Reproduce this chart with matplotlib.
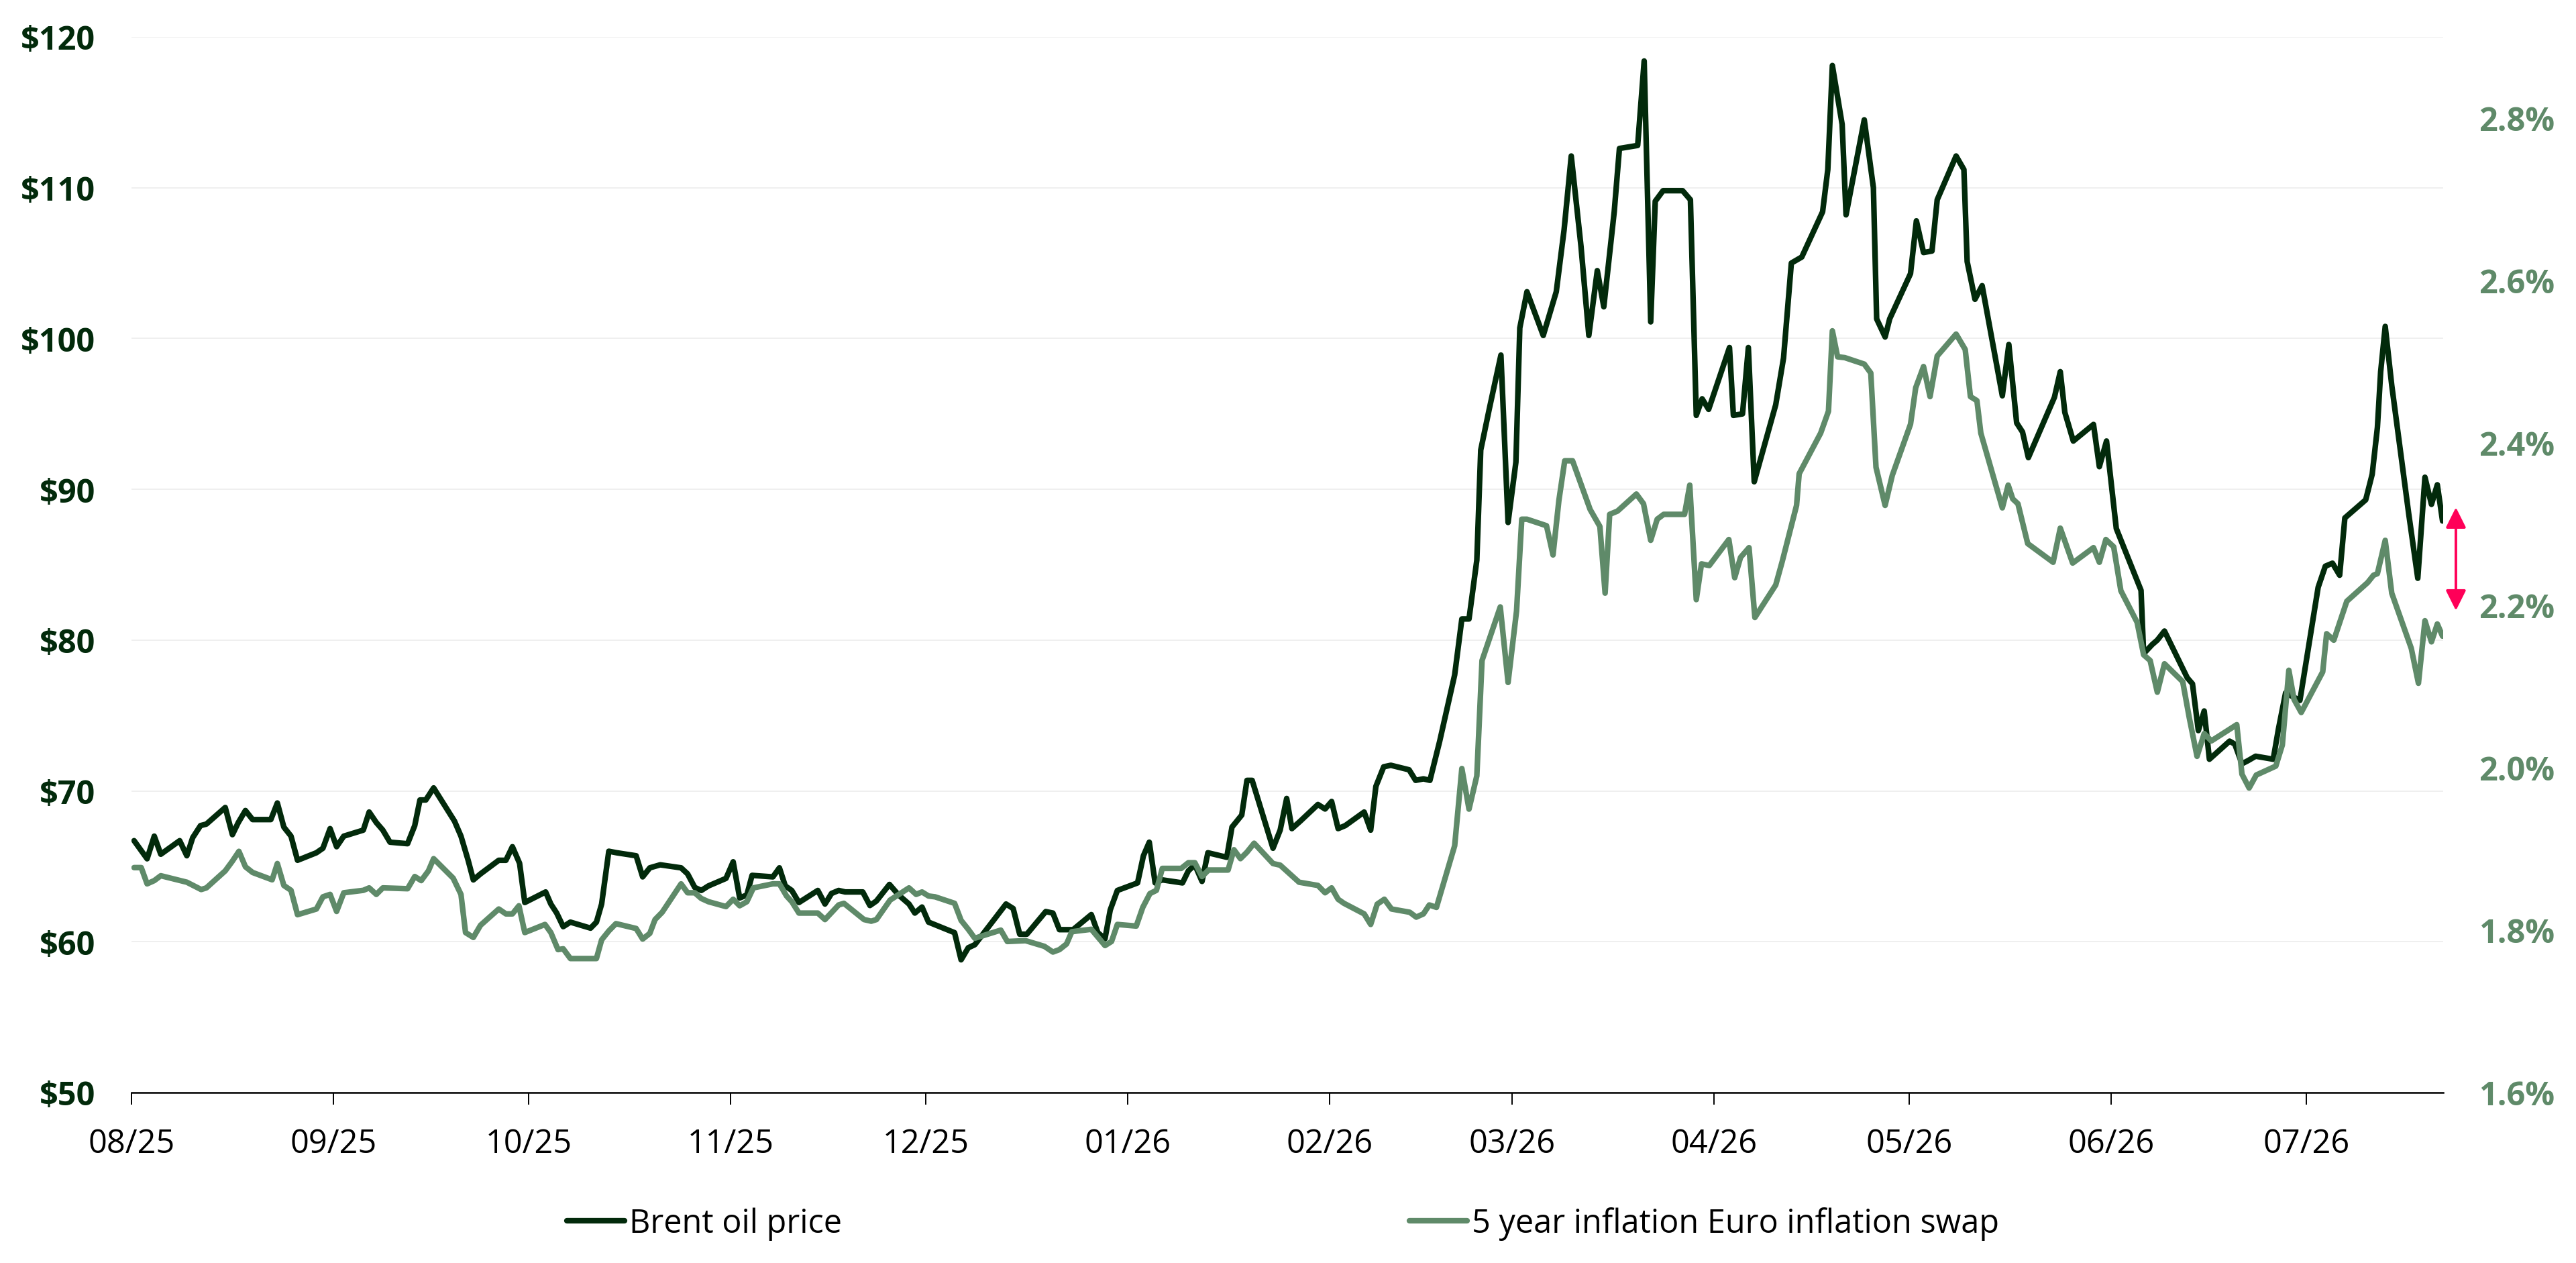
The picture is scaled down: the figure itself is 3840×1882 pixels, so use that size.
import pandas as pd
import matplotlib
matplotlib.use('Agg')
import matplotlib.pyplot as plt
import matplotlib.dates as mdates

plt.rcParams['font.family'] = ['Open Sans', 'DejaVu Sans']

DARK = '#022a0b'
LIGHT = '#5f8a69'
PINK = '#ff0058'

start = pd.Timestamp('2025-08-01')

# days since 1 Aug 2025, Brent in USD
oil_day = [0.4, 2.4, 3.5, 4.5, 7.4, 8.5, 9.4, 10.6, 11.5, 14.4, 15.5, 16.4, 17.5, 18.6, 21.4, 22.4,
           23.4, 24.5, 25.5, 28.4, 29.4, 30.5, 31.5, 32.6, 35.6, 36.5, 37.6, 38.6, 39.7, 42.4, 43.5,
           44.3, 45.2, 46.4, 49.6, 50.6, 51.7, 52.5, 53.6, 56.4, 57.5, 58.5, 59.6, 60.4, 63.6, 64.4,
           65.3, 66.3, 67.4, 70.5, 71.4, 72.2, 73.3, 74.5, 77.5, 78.5, 79.6, 81.2, 84.4, 85.4, 86.5,
           87.5, 88.6, 91.3, 92.4, 93.4, 94.5, 95.3, 98.5, 99.5, 100.4, 101.4, 102.5, 105.4, 106.5,
           107.5, 108.6, 109.6, 112.3, 113.4, 114.4, 116.4, 117.8, 119.4, 120.3, 121.4, 122.4, 126.4,
           127.4, 128.5, 129.5, 134.3, 135.4, 136.4, 137.5, 140.4, 141.5, 142.5, 144.6, 147.4, 148.4,
           149.5, 150.3, 151.4, 154.5, 155.4, 156.3, 157.2, 158.3, 161.4, 162.3, 163.3, 164.4, 165.3,
           168.2, 169.0, 170.5, 171.3, 172.1, 175.3, 176.4, 177.4, 178.2, 179.5, 182.2, 183.3, 184.3,
           185.3, 186.4, 189.3, 190.3, 191.1, 192.3, 193.4, 196.2, 197.2, 198.4, 199.4, 200.9, 203.2,
           204.3, 205.4, 206.6, 207.2, 208.5, 210.3, 211.4, 212.6, 213.2, 214.3, 216.8, 218.8, 220.0,
           221.1, 222.6, 223.8, 225.1, 226.1, 227.7, 228.5, 231.3, 232.3, 233.3, 234.0, 235.2, 238.2,
           239.4, 240.3, 241.2, 242.2, 245.4, 246.0, 247.4, 248.3, 249.2, 252.5, 253.7, 254.9, 256.5,
           259.7, 260.5, 261.2, 262.7, 263.3, 266.1, 267.5, 268.0, 269.3, 270.0, 273.2, 274.1, 275.2,
           276.5, 277.3, 280.2, 281.4, 281.9, 283.1, 284.2, 287.3, 288.3, 289.5, 290.4, 291.3, 295.3,
           296.2, 296.9, 298.2, 301.3, 302.2, 303.3, 304.8, 308.6, 309.0, 310.3, 311.1, 312.2, 315.7,
           316.5, 317.4, 318.3, 319.1, 322.2, 323.0, 324.1, 325.0, 326.2, 328.9, 329.7, 330.8, 333.0,
           335.8, 336.9, 338.0, 339.1, 339.9, 343.1, 344.1, 344.9, 345.4, 346.1, 347.1, 349.7, 351.1,
           352.2, 353.2, 354.1, 354.9]
oil_usd = [66.7, 65.5, 67.0, 65.8, 66.7, 65.7, 66.9, 67.7, 67.8, 68.9, 67.1, 67.9, 68.7, 68.1, 68.1, 69.2,
           67.6, 67.0, 65.4, 65.9, 66.2, 67.5, 66.3, 67.0, 67.4, 68.6, 67.9, 67.4, 66.6, 66.5, 67.7,
           69.4, 69.4, 70.2, 68.0, 67.0, 65.4, 64.1, 64.5, 65.4, 65.4, 66.3, 65.2, 62.6, 63.3, 62.5,
           61.9, 61.0, 61.3, 60.9, 61.3, 62.5, 66.0, 65.9, 65.7, 64.3, 64.9, 65.1, 64.9, 64.5, 63.6,
           63.4, 63.7, 64.2, 65.3, 62.9, 63.1, 64.4, 64.3, 64.9, 63.7, 63.4, 62.6, 63.4, 62.5,
           63.2, 63.4, 63.3, 63.3, 62.4, 62.7, 63.8, 63.1, 62.5, 61.9, 62.3, 61.3, 60.6,
           58.8, 59.6, 59.8, 62.5, 62.2, 60.5, 60.5, 62.0, 61.9, 60.8, 60.8, 61.8, 60.6,
           60.2, 62.1, 63.4, 63.9, 65.7, 66.6, 63.9, 64.1, 63.9, 64.7, 65.1, 64.0, 65.9,
           65.6, 67.6, 68.4, 70.7, 70.7, 66.2, 67.4, 69.5, 67.5, 68.0, 69.1, 68.8, 69.3,
           67.5, 67.7, 68.6, 67.4, 70.3, 71.6, 71.7, 71.4, 70.7, 70.8, 70.7, 73.3, 77.7,
           81.4, 81.4, 85.3, 92.6, 95.3, 98.9, 87.8, 91.8, 100.7, 103.1, 100.2, 103.1, 107.2,
           112.1, 106.1, 100.2, 104.5, 102.1, 108.4, 112.6, 112.8, 118.4, 101.1, 109.1, 109.8, 109.8,
           109.2, 94.9, 96.0, 95.3, 99.4, 94.9, 95.0, 99.4, 90.5, 95.6, 98.7, 105.0, 105.4,
           108.4, 111.2, 118.1, 114.2, 108.2, 114.5, 110.0, 101.3, 100.1, 101.3, 104.3, 107.8, 105.7,
           105.8, 109.2, 112.1, 111.2, 105.1, 102.6, 103.5, 96.2, 99.6, 94.4, 93.8, 92.1, 96.1,
           97.8, 95.1, 93.2, 94.3, 91.5, 93.2, 87.4, 83.3, 79.1, 79.7, 80.0, 80.6, 77.5,
           77.1, 74.0, 75.3, 72.1, 73.3, 73.1, 71.8, 72.0, 72.3, 72.1, 74.1, 76.5, 76.0,
           83.5, 84.9, 85.1, 84.3, 88.1, 89.3, 91.0, 94.1, 97.8, 100.8, 96.9, 88.4, 84.1,
           90.8, 89.0, 90.3, 87.9]

# days since 1 Aug 2025, 5y EUR inflation swap in %
swap_day = [0.4, 1.5, 2.4, 3.5, 4.5, 8.5, 10.7, 11.5, 14.4, 15.5, 16.5, 17.5, 18.6, 21.6, 22.4, 23.4,
            24.5, 25.5, 28.4, 29.4, 30.5, 31.5, 32.6, 35.6, 36.5, 37.6, 38.6, 42.4, 43.5, 44.5, 45.6,
            46.4, 49.4, 50.6, 51.3, 52.5, 53.6, 56.4, 57.5, 58.5, 59.5, 60.4, 63.5, 64.4, 65.5, 66.3,
            67.4, 71.4, 72.2, 73.3, 74.4, 77.5, 78.5, 79.6, 80.4, 81.5, 84.4, 85.4, 86.5, 87.5, 88.6,
            91.3, 92.4, 93.4, 94.5, 95.5, 98.5, 99.5, 100.6, 101.4, 102.5, 105.4, 106.5, 108.6, 109.4,
            112.5, 113.6, 114.4, 116.5, 119.4, 120.5, 121.4, 122.4, 123.4, 126.4, 127.4, 128.5, 129.5,
            133.5, 134.5, 137.3, 140.2, 141.5, 142.5, 143.6, 144.4, 145.3, 147.4, 149.5, 150.5, 151.4,
            154.3, 155.3, 156.4, 157.4, 158.3, 161.2, 162.3, 163.3, 164.4, 165.4, 168.4, 169.3, 170.3,
            171.3, 172.4, 175.3, 176.4, 179.3, 182.2, 183.3, 184.3, 185.3, 186.2, 189.3, 190.3, 191.3,
            192.4, 193.5, 196.3, 197.3, 198.4, 199.3, 200.4, 203.2, 204.3, 205.4, 206.6, 207.4, 210.2,
            211.4, 212.7, 213.5, 214.3, 217.3, 218.3, 219.2, 220.1, 221.3, 224.0, 225.5, 226.3, 227.0,
            228.2, 231.1, 232.2, 233.3, 234.3, 235.3, 238.5, 239.3, 240.3, 241.1, 242.3, 245.3, 246.2,
            247.1, 248.4, 249.3, 252.5, 253.5, 255.7, 256.1, 259.4, 260.6, 261.2, 262.0, 263.1, 266.1,
            267.1, 267.9, 269.3, 270.4, 273.2, 274.0, 275.2, 276.2, 277.3, 280.2, 281.6, 282.4, 283.4,
            284.0, 287.3, 288.2, 288.9, 289.7, 291.2, 295.1, 296.2, 298.1, 301.3, 302.2, 303.2, 304.4,
            305.5, 308.0, 309.0, 310.0, 311.1, 312.2, 315.0, 316.0, 317.2, 318.3, 319.4, 323.3, 324.1,
            325.2, 326.3, 329.3, 330.3, 331.3, 332.1, 333.2, 336.5, 337.1, 338.2, 340.2, 343.4, 344.3,
            344.9, 346.1, 347.1, 350.1, 351.2, 352.2, 353.2, 354.1, 354.9]
swap_pct = [1.877, 1.877, 1.857, 1.861, 1.867, 1.859, 1.850, 1.852, 1.873, 1.885, 1.897, 1.878, 1.871,
            1.862, 1.882, 1.855, 1.849, 1.819, 1.826, 1.841, 1.844, 1.823, 1.846, 1.849, 1.852, 1.844,
            1.852, 1.851, 1.866, 1.861, 1.873, 1.888, 1.864, 1.844, 1.797, 1.791, 1.806, 1.826, 1.820,
            1.820, 1.830, 1.797, 1.807, 1.797, 1.776, 1.777, 1.765, 1.765, 1.788, 1.799, 1.808, 1.802,
            1.789, 1.796, 1.813, 1.822, 1.857, 1.846, 1.846, 1.839, 1.835, 1.829, 1.838, 1.830, 1.835,
            1.852, 1.857, 1.857, 1.842, 1.835, 1.821, 1.821, 1.813, 1.831, 1.833, 1.813, 1.811, 1.813,
            1.837, 1.852, 1.844, 1.847, 1.842, 1.841, 1.833, 1.812, 1.801, 1.790, 1.800, 1.786, 1.787,
            1.780, 1.773, 1.776, 1.783, 1.798, 1.799, 1.801, 1.781, 1.786, 1.807, 1.805, 1.828, 1.845,
            1.849, 1.876, 1.876, 1.883, 1.883, 1.866, 1.874, 1.874, 1.899, 1.888, 1.896, 1.907, 1.882,
            1.880, 1.859, 1.855, 1.846, 1.852, 1.838, 1.833, 1.820, 1.807, 1.832, 1.838, 1.826, 1.822,
            1.816, 1.820, 1.831, 1.828, 1.904, 1.999, 1.949, 1.990, 2.132, 2.198, 2.105, 2.193, 2.306,
            2.306, 2.298, 2.262, 2.329, 2.378, 2.378, 2.318, 2.297, 2.215, 2.312, 2.316, 2.337, 2.325,
            2.280, 2.306, 2.312, 2.312, 2.348, 2.207, 2.251, 2.249, 2.281, 2.234, 2.259, 2.271, 2.185,
            2.225, 2.254, 2.323, 2.362, 2.412, 2.439, 2.538, 2.506, 2.505, 2.497, 2.486, 2.370, 2.323,
            2.360, 2.423, 2.468, 2.494, 2.457, 2.507, 2.534, 2.515, 2.457, 2.452, 2.412, 2.320, 2.348,
            2.331, 2.325, 2.276, 2.253, 2.295, 2.252, 2.271, 2.253, 2.281, 2.272, 2.218, 2.179, 2.139,
            2.132, 2.093, 2.128, 2.106, 2.062, 2.014, 2.042, 2.033, 2.053, 1.992, 1.975, 1.991, 2.002,
            2.028, 2.120, 2.084, 2.068, 2.118, 2.165, 2.157, 2.205, 2.228, 2.237, 2.239, 2.280, 2.215,
            2.147, 2.104, 2.181, 2.155, 2.177, 2.162]

usd_ticks = [50, 60, 70, 80, 90, 100, 110, 120]
pct_ticks = [1.6, 1.8, 2.0, 2.2, 2.4, 2.6, 2.8]

oil_dates = start + pd.to_timedelta(oil_day, unit='D')
swap_dates = start + pd.to_timedelta(swap_day, unit='D')

fig = plt.figure(figsize=(38.4, 18.83), dpi=100)
ax = fig.add_axes([0.05104, 0.1349, 0.8974, 0.8354])
ax2 = ax.twinx()

l1, = ax.plot(oil_dates, oil_usd, color=DARK, lw=6, solid_joinstyle='round',
              solid_capstyle='round', label='Brent oil price')
l2, = ax2.plot(swap_dates, swap_pct, color=LIGHT, lw=6, solid_joinstyle='round',
               solid_capstyle='round', label='5 year inflation Euro inflation swap')

ax.set_xlim(start, start + pd.Timedelta(days=355))
ax.set_ylim(50, 120)
ax2.set_ylim(1.6, 2.9)

ax.set_yticks(usd_ticks, [f'${t}' for t in usd_ticks], fontweight='bold')
ax2.set_yticks(pct_ticks, [f'{t:.1f}%' for t in pct_ticks], fontweight='bold')
ax.tick_params(axis='y', length=0, pad=39, labelsize=35, labelcolor=DARK)
ax2.tick_params(axis='y', length=0, pad=38, labelsize=35, labelcolor=LIGHT)

ax.xaxis.set_major_locator(mdates.MonthLocator())
ax.xaxis.set_major_formatter(mdates.DateFormatter('%m/%y'))
ax.tick_params(axis='x', length=13, width=1.4, pad=24, labelsize=35, color='black')

ax.yaxis.grid(True, color='#efefef', lw=1.4)
ax.set_axisbelow(True)
for s in ['left', 'right', 'top']:
    ax.spines[s].set_visible(False)
ax.spines['bottom'].set_linewidth(1.8)
for s in ax2.spines.values():
    s.set_visible(False)

ax.annotate('', xy=(1.0055, 81.96), xytext=(1.0055, 88.8),
            xycoords=ax.get_yaxis_transform(), textcoords=ax.get_yaxis_transform(),
            arrowprops=dict(arrowstyle='<|-|>', color=PINK, lw=2.8, mutation_scale=46,
                            shrinkA=0, shrinkB=0),
            annotation_clip=False)

fig.legend(handles=[l1, l2], loc='center left', bbox_to_anchor=(0.22, 0.0313), ncol=2,
           frameon=False, fontsize=35, handlelength=1.77, handletextpad=0.15,
           columnspacing=17.4, borderpad=0, borderaxespad=0)

fig.savefig('out.png', dpi=100)
